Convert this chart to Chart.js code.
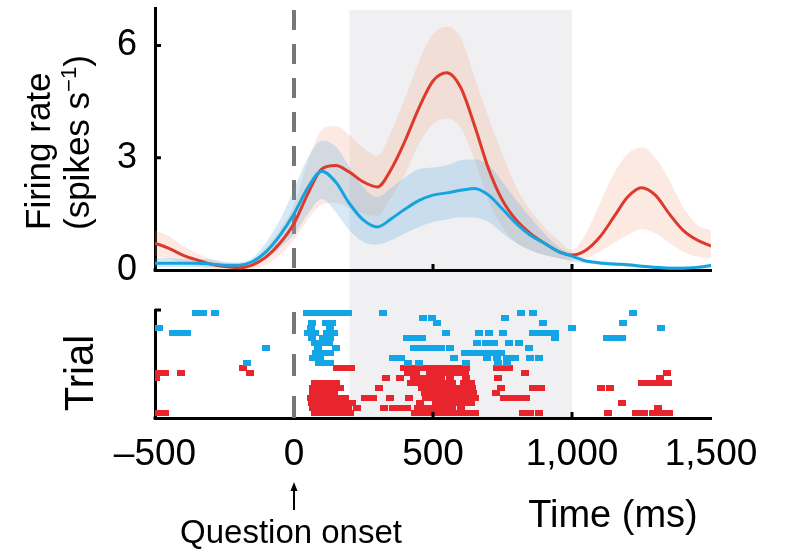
<!DOCTYPE html>
<html>
<head>
<meta charset="utf-8">
<script src="https://cdn.jsdelivr.net/npm/chart.js@4.4.1/dist/chart.umd.min.js"></script>
<style>
  html, body { margin: 0; padding: 0; background: #fff; }
  #wrap { position: relative; width: 785px; height: 549px; overflow: hidden; }
  #rateChart { position: absolute; left: 0; top: 0; }
  #rasterChart { position: absolute; left: 0; top: 290px; }
</style>
</head>
<body>
<div id="wrap">
  <canvas id="rateChart" width="785" height="290"></canvas>
  <canvas id="rasterChart" width="785" height="259"></canvas>
</div>
<script>
// Shared time axis (ms from question onset)
const timeMs = [-500, -450, -400, -350, -300, -250, -200, -150, -100, -50,
  0, 50, 100, 150, 200, 250, 300, 350, 400, 450,
  500, 550, 600, 650, 700, 750, 800, 850, 900, 950,
  1000, 1050, 1100, 1150, 1200, 1250, 1300, 1350, 1400, 1450, 1500];
const xTicks = [-500, 0, 500, 1000, 1500];
const rateTicks = [0, 3, 6];
const windowMs = [200, 1000];
const onsetMs = 0;

// Firing rate (spikes/s), mean and band
const redRate = [0.72, 0.58, 0.40, 0.27, 0.16, 0.09, 0.06, 0.13, 0.35, 0.72,
  1.24, 2.04, 2.70, 2.79, 2.61, 2.35, 2.22, 2.70, 3.46, 4.34,
  5.05, 5.27, 4.87, 3.85, 2.70, 1.86, 1.33, 0.98, 0.72, 0.50,
  0.40, 0.53, 0.88, 1.41, 1.95, 2.20, 2.00, 1.50, 1.06, 0.80, 0.64];
const redUpper = [1.06, 0.90, 0.65, 0.45, 0.30, 0.18, 0.14, 0.25, 0.60, 1.10,
  1.75, 2.90, 3.75, 3.85, 3.60, 3.25, 3.05, 3.70, 4.60, 5.58,
  6.30, 6.50, 6.20, 5.13, 4.07, 3.10, 2.20, 1.60, 1.15, 0.80,
  0.53, 0.98, 1.77, 2.57, 3.10, 3.28, 3.00, 2.40, 1.68, 1.20, 1.06];
const redLower = [0.38, 0.30, 0.18, 0.10, 0.04, 0.00, 0.00, 0.03, 0.15, 0.40,
  0.80, 1.35, 1.75, 1.80, 1.65, 1.50, 1.45, 1.95, 2.57, 3.37,
  3.90, 4.04, 3.80, 2.93, 1.85, 1.15, 0.72, 0.53, 0.40, 0.32,
  0.27, 0.32, 0.49, 0.72, 0.93, 1.09, 0.98, 0.72, 0.49, 0.36, 0.32];
const blueRate = [0.18, 0.18, 0.18, 0.18, 0.16, 0.13, 0.13, 0.22, 0.49, 0.93,
  1.50, 2.20, 2.64, 2.35, 1.77, 1.33, 1.15, 1.37, 1.63, 1.86,
  2.00, 2.06, 2.13, 2.18, 2.00, 1.63, 1.24, 0.93, 0.72, 0.50,
  0.37, 0.24, 0.19, 0.16, 0.14, 0.10, 0.07, 0.05, 0.05, 0.07, 0.12];
const blueUpper = [0.32, 0.32, 0.30, 0.30, 0.28, 0.22, 0.20, 0.32, 0.75, 1.35,
  2.15, 3.00, 3.45, 3.30, 2.75, 2.20, 1.95, 2.20, 2.48, 2.70,
  2.74, 2.80, 2.93, 2.95, 2.80, 2.35, 1.86, 1.41, 0.98, 0.62,
  0.45, 0.28, 0.24, 0.21, 0.19, 0.15, 0.12, 0.10, 0.10, 0.12, 0.17];
const blueLower = [0.08, 0.08, 0.08, 0.08, 0.07, 0.06, 0.06, 0.12, 0.30, 0.60,
  0.95, 1.50, 1.90, 1.55, 1.05, 0.75, 0.68, 0.80, 0.98, 1.15,
  1.28, 1.35, 1.41, 1.40, 1.28, 0.98, 0.72, 0.53, 0.40, 0.32,
  0.23, 0.18, 0.14, 0.11, 0.09, 0.06, 0.03, 0.01, 0.01, 0.03, 0.07];

// Raster: [trial row, spike times in ms]
const blueTrials = [
  [21, [-352, -328, -285, 45, 70, 95, 120, 145, 170, 195, 320, 815, 860, 1220]],
  [20, [465, 495, 760]],
  [19, [65, 115, 135, 515, 895, 1185]],
  [18, [-487, 60, 130, 1000, 1320]],
  [17, [-435, -410, -385, 50, 75, 120, 145, 545, 665, 700, 750, 860, 885, 910, 940]],
  [16, [65, 105, 130, 405, 430, 460, 940, 1125, 1150, 1180]],
  [15, [75, 100, 125, 660, 690, 720, 775, 810]],
  [14, [-100, 85, 150, 430, 455, 480, 505, 530, 560, 845]],
  [13, [80, 105, 130, 615, 640, 665, 690, 720, 745]],
  [12, [70, 95, 355, 385, 575, 695, 730, 765, 795, 850, 880]],
  [11, [-170, 90, 115, 130, 410, 450, 620, 735, 765]]
];
const redTrials = [
  [10, [-185, 155, 180, 205, 395, 420, 445, 470, 495, 520, 545, 570, 595, 620, 730, 755, 775]],
  [9, [-490, -465, -405, -160, 410, 440, 490, 515, 540, 565, 590, 615, 830, 1340]],
  [8, [-495, 330, 380, 430, 455, 480, 505, 530, 560, 620, 735, 1315]],
  [7, [75, 100, 125, 150, 420, 445, 470, 495, 520, 545, 570, 610, 635, 1250, 1275, 1300, 1325, 1345]],
  [6, [70, 95, 120, 145, 165, 305, 460, 485, 510, 535, 560, 585, 610, 640, 745, 860, 890, 1105, 1135]],
  [5, [70, 95, 120, 145, 470, 495, 520, 545, 570, 595, 620, 645, 725]],
  [4, [60, 85, 110, 135, 160, 185, 255, 285, 345, 415, 475, 500, 525, 550, 575, 600, 625, 650, 755, 780, 805, 835]],
  [3, [65, 90, 115, 140, 165, 190, 210, 455, 510, 535, 560, 585, 610, 635, 1180]],
  [2, [70, 95, 120, 145, 170, 195, 225, 325, 355, 380, 405, 445, 470, 495, 520, 545, 570, 600, 1310]],
  [1, [-490, -465, 75, 100, 125, 150, 175, 200, 435, 460, 485, 510, 530, 555, 580, 605, 630, 650, 825, 850, 880, 1130, 1230, 1260, 1290, 1320, 1350]]
];

const fontFamily = "'Liberation Sans', Arial, Helvetica, sans-serif";
Chart.defaults.font.family = fontFamily;
Chart.defaults.color = '#000';

const RED = '#dd3a2d';
const BLUE = '#16a4de';

const xy = (vals) => vals.map((v, i) => ({ x: timeMs[i], y: v }));
const toPoints = (trials) => trials.flatMap(([row, ts]) => ts.map(t => ({ x: t, y: row })));

// little spike block used as point style
function spikeMark(color) {
  const c = document.createElement('canvas');
  c.width = 8;
  c.height = 6;
  const g = c.getContext('2d');
  g.fillStyle = color;
  g.fillRect(0, 0, 8, 6);
  return c;
}

// Draw text made of parts (for superscripts), optionally rotated
function drawLabel(ctx, lbl) {
  ctx.save();
  ctx.translate(lbl.x, lbl.y);
  if (lbl.rotate) ctx.rotate(-Math.PI / 2);
  ctx.fillStyle = '#000';
  ctx.textBaseline = 'alphabetic';
  ctx.textAlign = 'left';
  let total = 0;
  lbl.parts.forEach(p => { ctx.font = `${p.size}px ${fontFamily}`; total += ctx.measureText(p.text).width; });
  let cx = lbl.align === 'center' ? -total / 2 : 0;
  lbl.parts.forEach(p => {
    ctx.font = `${p.size}px ${fontFamily}`;
    ctx.fillText(p.text, cx, -(p.raise || 0));
    cx += ctx.measureText(p.text).width;
  });
  ctx.restore();
}

// Grey analysis window, onset dashed line, inner ticks and free text
const panelDecor = {
  id: 'panelDecor',
  beforeDraw(chart, args, opts) {
    const { ctx, chartArea: a, scales: { x } } = chart;
    const x0 = x.getPixelForValue(windowMs[0]);
    const x1 = x.getPixelForValue(windowMs[1]);
    const top = opts.shadeToEdge ? a.top + 2 : 0;
    const bottom = opts.shadeToEdge ? chart.height : a.bottom;
    ctx.save();
    ctx.fillStyle = '#f0f0f2';
    ctx.fillRect(x0, top, x1 - x0, bottom - top);
    ctx.restore();
  },
  beforeDatasetsDraw(chart, args, opts) {
    const { ctx, chartArea: a, scales: { x } } = chart;
    const px = x.getPixelForValue(onsetMs);
    ctx.save();
    ctx.strokeStyle = '#777';
    ctx.lineWidth = 4;
    ctx.setLineDash(opts.dash);
    ctx.beginPath();
    ctx.moveTo(px, a.top + 2);
    ctx.lineTo(px, a.bottom);
    ctx.stroke();
    ctx.restore();
  },
  afterDraw(chart, args, opts) {
    const { ctx, chartArea: a, scales: { x, y } } = chart;
    ctx.save();
    ctx.strokeStyle = '#000';
    ctx.lineWidth = 3;
    ctx.beginPath();
    xTicks.forEach(v => {
      if (v > x.min && v < x.max && v !== onsetMs) {
        const px = x.getPixelForValue(v);
        ctx.moveTo(px, a.bottom);
        ctx.lineTo(px, a.bottom - 6);
      }
    });
    (opts.yTicks || []).forEach(v => {
      const py = y.getPixelForValue(v);
      ctx.moveTo(a.left, py);
      ctx.lineTo(a.left + 6, py);
    });
    // close the axis corner
    ctx.moveTo(a.left - 1.5, a.bottom);
    ctx.lineTo(a.left + 1, a.bottom);
    ctx.stroke();
    if (opts.arrow) {
      const px = x.getPixelForValue(onsetMs);
      ctx.lineWidth = 2;
      ctx.beginPath();
      ctx.moveTo(px, opts.arrow.top + 6);
      ctx.lineTo(px, opts.arrow.bottom);
      ctx.stroke();
      ctx.fillStyle = '#000';
      ctx.beginPath();
      ctx.moveTo(px, opts.arrow.top);
      ctx.lineTo(px - 3.5, opts.arrow.top + 9);
      ctx.lineTo(px + 3.5, opts.arrow.top + 9);
      ctx.closePath();
      ctx.fill();
    }
    ctx.restore();
    (opts.labels || []).forEach(l => drawLabel(ctx, l));
  }
};

const bandStyle = { pointRadius: 0, borderWidth: 0, cubicInterpolationMode: 'monotone' };
const lineStyle = { pointRadius: 0, borderWidth: 3, fill: false, cubicInterpolationMode: 'monotone' };

// keep the plot box fixed: no extra room for tick label overhang
const fixVertical = (w) => (s) => { s.width = w; s.paddingTop = 0; s.paddingBottom = 0; };

// Top panel: firing rate
new Chart(document.getElementById('rateChart'), {
  type: 'line',
  data: {
    datasets: [
      { label: 'blue', data: xy(blueRate), borderColor: BLUE, ...lineStyle },
      { label: 'red', data: xy(redRate), borderColor: RED, ...lineStyle },
      { label: 'blueUpper', data: xy(blueUpper), backgroundColor: 'rgba(80, 165, 220, 0.24)', fill: '+1', ...bandStyle },
      { label: 'blueLower', data: xy(blueLower), backgroundColor: 'rgba(80, 165, 220, 0.24)', fill: false, ...bandStyle },
      { label: 'redUpper', data: xy(redUpper), backgroundColor: 'rgba(240, 150, 110, 0.2)', fill: '+1', ...bandStyle },
      { label: 'redLower', data: xy(redLower), backgroundColor: 'rgba(240, 150, 110, 0.2)', fill: false, ...bandStyle }
    ]
  },
  options: {
    responsive: false,
    animation: false,
    events: [],
    layout: { padding: { left: 0, right: 74, top: 8, bottom: 20 } },
    plugins: {
      legend: { display: false },
      tooltip: { enabled: false },
      panelDecor: {
        shadeToEdge: true,
        dash: [20, 14],
        yTicks: rateTicks.filter(v => v > 0),
        labels: [
          { x: 50, y: 230, rotate: true, parts: [{ text: 'Firing rate', size: 35 }] },
          { x: 89, y: 230, rotate: true, parts: [
            { text: '(spikes s', size: 35 },
            { text: '\u22121', size: 22, raise: 13 },
            { text: ')', size: 35 }
          ] }
        ]
      }
    },
    scales: {
      x: {
        type: 'linear', min: -500, max: 1500,
        grid: { display: false, drawTicks: false },
        border: { display: true, color: '#000', width: 3 },
        ticks: { display: false },
        afterBuildTicks: s => { s.ticks = xTicks.map(v => ({ value: v })); },
        afterFit: s => { s.height = 0; s.paddingLeft = 0; s.paddingRight = 0; }
      },
      y: {
        min: 0, max: 7,
        grid: { display: false, drawTicks: false },
        border: { display: true, color: '#000', width: 3 },
        ticks: { padding: 18, font: { size: 36 }, color: '#000' },
        afterBuildTicks: s => { s.ticks = rateTicks.map(v => ({ value: v })); },
        afterFit: fixVertical(155)
      }
    }
  },
  plugins: [panelDecor]
});

// Bottom panel: spike raster
new Chart(document.getElementById('rasterChart'), {
  type: 'scatter',
  data: {
    datasets: [
      { label: 'blue trials', data: toPoints(blueTrials), pointStyle: spikeMark('#12a6e6'), pointRadius: 4, borderWidth: 0 },
      { label: 'red trials', data: toPoints(redTrials), pointStyle: spikeMark('#e8242c'), pointRadius: 4, borderWidth: 0 }
    ]
  },
  options: {
    responsive: false,
    animation: false,
    events: [],
    layout: { padding: { left: 0, right: 74, top: 20, bottom: 0 } },
    plugins: {
      legend: { display: false },
      tooltip: { enabled: false },
      panelDecor: {
        shadeToEdge: false,
        dash: [22, 20],
        yTicks: [21.6],
        arrow: { top: 192, bottom: 220 },
        labels: [
          { x: 93, y: 83, rotate: true, align: 'center', parts: [{ text: 'Trial', size: 40 }] },
          { x: 613, y: 237, align: 'center', parts: [{ text: 'Time (ms)', size: 38 }] },
          { x: 291, y: 253, align: 'center', parts: [{ text: 'Question onset', size: 33 }] }
        ]
      }
    },
    scales: {
      x: {
        type: 'linear', min: -500, max: 1500,
        grid: { display: false, drawTicks: false },
        border: { display: true, color: '#000', width: 3 },
        ticks: {
          padding: 15, font: { size: 37 }, color: '#000', maxRotation: 0, autoSkip: false,
          callback: v => (v < 0 ? '\u2013' : '') + Math.abs(v).toLocaleString('en-US')
        },
        afterBuildTicks: s => { s.ticks = xTicks.map(v => ({ value: v })); },
        afterFit: s => { s.height = 131; }
      },
      y: {
        min: 0, max: 21.6,
        grid: { display: false, drawTicks: false },
        border: { display: true, color: '#000', width: 3 },
        ticks: { display: false },
        afterFit: fixVertical(155)
      }
    }
  },
  plugins: [panelDecor]
});
</script>
</body>
</html>
